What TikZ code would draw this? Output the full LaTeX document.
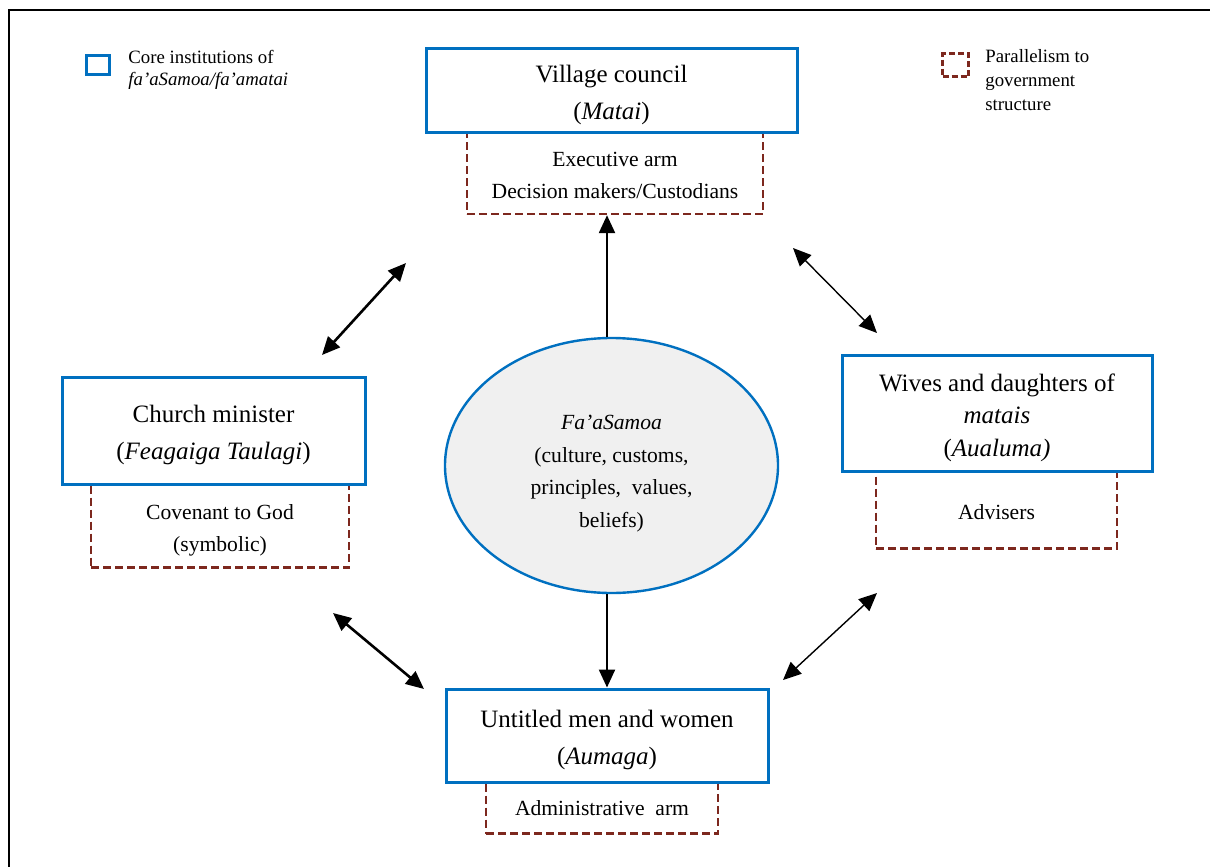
\documentclass[tikz,border=0pt]{standalone}
\usepackage{fontspec}
\setmainfont{Liberation Serif}
\usetikzlibrary{shapes.geometric,arrows.meta}
\definecolor{coreblue}{RGB}{0,112,192}
\definecolor{parred}{RGB}{125,40,30}
\definecolor{corefill}{RGB}{240,240,240}
\tikzset{
  corebox/.style={draw=coreblue, line width=1.5pt, fill=white, inner sep=0pt},
  parbox/.style={draw=parred, line width=1.2pt, dash pattern=on 4pt off 2pt, fill=white, inner sep=0pt},
  boxtxt/.style={inner sep=0pt, align=center, yshift=-2.3pt},
  bigtxt/.style={font=\fontsize{12.5}{18.5}\selectfont},
  smalltxt/.style={font=\fontsize{10.8}{16}\selectfont},
  legtxt/.style={font=\fontsize{9.4}{12}\selectfont, align=left, anchor=north west, inner sep=0pt},
  thickarr/.style={line width=1.3pt, {Triangle[length=9pt,width=8pt]}-{Triangle[length=9pt,width=8pt]}},
  thinarr/.style={line width=0.7pt, {Triangle[length=9pt,width=8pt]}-{Triangle[length=9pt,width=8pt]}},
  onearr/.style={line width=1.2pt, -{Triangle[length=9pt,width=8pt]}}
}
\begin{document}
\begin{tikzpicture}[x=0.5pt,y=-0.5pt]
\useasboundingbox (0,0) rectangle (1210,867);
% frame
\draw[line width=1pt] (9,867) -- (9,10) -- (1210,10);

% legend
\node[draw=coreblue, line width=1.3pt, minimum width=11.5pt, minimum height=9.5pt, inner sep=0pt] (legcore) at (98,65) {};
\node[legtxt] (legcoretxt) at (128,50) {Core institutions of\\[-1pt]\textit{fa’aSamoa/fa’amatai}};
\node[draw=parred, line width=1.2pt, dash pattern=on 3pt off 1.5pt, minimum width=13pt, minimum height=11.5pt, inner sep=0pt] (legpar) at (955.5,65) {};
\node[legtxt] (legpartxt) at (985,49) {Parallelism to\\government\\structure};

% dashed boxes (drawn first)
\node[parbox, minimum width=148pt, minimum height=41pt] (vcx) at (615,173) {};
\node[boxtxt, smalltxt, yshift=1pt] (vcxt) at (vcx.center) {Executive arm\\Decision makers/Custodians};
\node[parbox, minimum width=129pt, minimum height=41.5pt] (cmx) at (220,526) {};
\node[boxtxt, smalltxt] (cmxt) at (cmx.center) {Covenant to God\\(symbolic)};
\node[parbox, minimum width=120.5pt, minimum height=38.5pt] (wwx) at (996.5,510) {};
\node[boxtxt, smalltxt, yshift=1.3pt] (wwxt) at (wwx.center) {Advisers};
\node[parbox, minimum width=116pt, minimum height=25.5pt] (umx) at (602,808) {};
\node[boxtxt, smalltxt, yshift=2.3pt] (umxt) at (umx.center) {Administrative\ \ arm};

% core boxes
\node[corebox, minimum width=185.5pt, minimum height=42pt] (vc) at (611.5,90) {};
\node[boxtxt, bigtxt] (vct) at (vc.center) {Village council\\(\textit{Matai})};
\node[corebox, minimum width=151.5pt, minimum height=53.5pt] (cm) at (213.5,430.5) {};
\node[boxtxt, bigtxt] (cmt) at (cm.center) {Church minister\\(\textit{Feagaiga Taulagi})};
\node[corebox, minimum width=155pt, minimum height=58pt] (ww) at (997,413) {};
\node[boxtxt, font=\fontsize{12.5}{16.3}\selectfont] (wwt) at (ww.center) {Wives and daughters of\\\textit{matais}\\(\textit{Aualuma)}};
\node[corebox, minimum width=161pt, minimum height=46.5pt] (um) at (607,735.5) {};
\node[boxtxt, bigtxt] (umt) at (um.center) {Untitled men and women\\(\textit{Aumaga})};

% central ellipse
\node[ellipse, draw=coreblue, line width=1.2pt, fill=corefill, minimum width=166.5pt, minimum height=127.5pt, inner sep=0pt] (core) at (611.5,465.5) {};
\node[boxtxt, font=\fontsize{10.8}{16.2}\selectfont, yshift=-1.8pt] (coret) at (core.center) {\textit{Fa’aSamoa}\\(culture, customs,\\principles,\ \ values,\\beliefs)};

% vertical arrows
\coordinate (axis) at (607,0);
\draw[onearr] (core.north -| axis) -- (vcx.south -| axis);
\draw[onearr] (core.south -| axis) -- (um.north -| axis);

% floating double arrows
\coordinate (ulA) at (406,263);
\coordinate (ulB) at (322,355);
\coordinate (urA) at (793,248);
\coordinate (urB) at (877,333);
\coordinate (llA) at (333,613);
\coordinate (llB) at (424,689);
\coordinate (lrA) at (877,593);
\coordinate (lrB) at (783,680);
\draw[thickarr] (ulA) -- (ulB);
\draw[thinarr] (urA) -- (urB);
\draw[thickarr] (llA) -- (llB);
\draw[thinarr] (lrA) -- (lrB);
\end{tikzpicture}
\end{document}
